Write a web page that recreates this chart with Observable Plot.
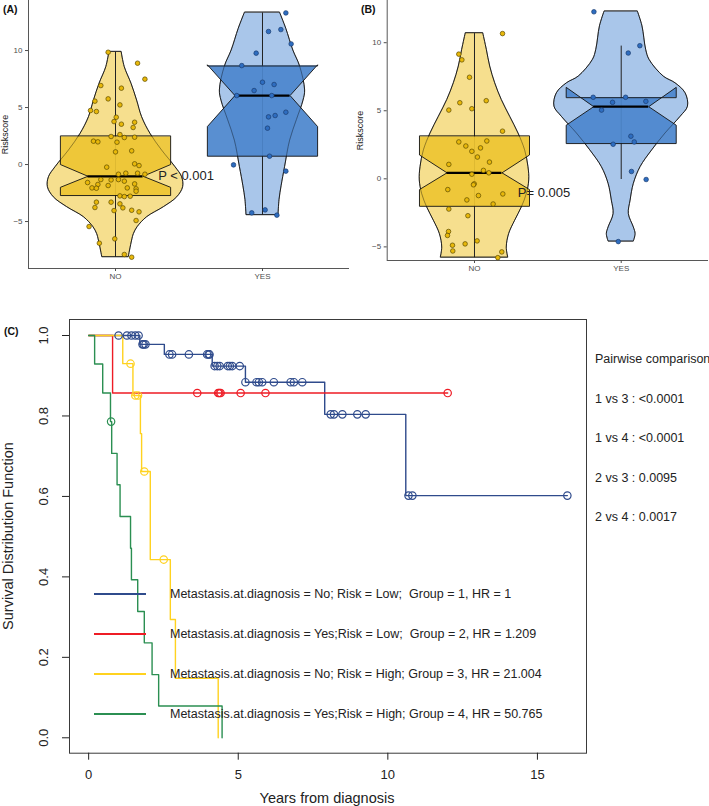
<!DOCTYPE html>
<html><head><meta charset="utf-8">
<script src="https://cdn.jsdelivr.net/npm/d3@7"></script>
<script src="https://cdn.jsdelivr.net/npm/@observablehq/plot@0.6"></script>
<style>
body{margin:0;background:#fff;font-family:"Liberation Sans",Arial,sans-serif;}
#wrap{position:relative;width:709px;height:806px;overflow:hidden;background:#fff;}
.panel{position:absolute;}
.tag{position:absolute;font-weight:bold;font-size:10.5px;color:#111;line-height:1;}
.txt{position:absolute;white-space:nowrap;font-size:12.5px;color:#222;line-height:1;transform:translateY(-50%);}
.ttl{position:absolute;white-space:nowrap;font-size:14.5px;color:#222;line-height:1;}
</style></head><body>
<div id="wrap">
  <div id="pA" class="panel" style="left:0;top:0"></div>
  <div id="pB" class="panel" style="left:355px;top:0"></div>
  <div id="pC" class="panel" style="left:0;top:300px"></div>
  <div class="tag" style="left:3px;top:4px">(A)</div>
  <div class="tag" style="left:361px;top:4px">(B)</div>
  <div class="tag" style="left:4px;top:326px">(C)</div>
  <div id="legend"></div>
  <div id="pairs"></div>
  <div class="ttl" style="left:327px;top:791px;transform:translateX(-50%)">Years from diagnosis</div>
  <div class="ttl" style="left:8px;top:536px;transform:translate(-50%,-50%) rotate(-90deg)">Survival Distribution Function</div>
</div>
<script>
// ---------------- DATA ----------------
const categories = ["NO", "YES"];
const riskTicks = [-5, 0, 5, 10];

// Panel A: violin outlines (riskscore level, half width in category units)
const aNoViolinV = [9.85, 8.54, 7.08, 5.61, 4.15, 2.69, 1.23, -0.23, -1.11, -1.99, -2.87, -3.74, -4.62, -5.5, -6.1, -6.67, -8.13];
const aNoViolinW = [0.042, 0.063, 0.109, 0.147, 0.181, 0.238, 0.317, 0.408, 0.453, 0.46, 0.42, 0.329, 0.215, 0.15, 0.125, 0.113, 0.09];
const aYesViolinV = [13.30, 11.9, 10.0, 8.6, 6.5, 5.6, 3.9, 2.1, -0.2, -1.9, -3.1, -4.44];
const aYesViolinW = [0.12, 0.162, 0.21, 0.256, 0.29, 0.279, 0.234, 0.188, 0.154, 0.13, 0.116, 0.109];
// Panel A: box statistics [NO, YES]
const aQ1 = [-2.72, 0.73], aMed = [-1.03, 6.05], aQ3 = [2.48, 8.68];
const aNotchLo = [-2.0, 3.33], aNotchHi = [0.0, 8.75];
const aWhiskLo = [-8.13, -4.44], aWhiskHi = [9.85, 13.30];
// Panel A: jittered points (value, horizontal jitter)
const aNoVal = [9.85, 8.89, 7.49, 6.93, 6.70, 5.56, 5.76, 5.23, 4.74, 4.65, 4.15, 3.77, 3.71, 3.54, 3.25, 2.46, 2.63, 2.37, 2.40, 2.05, 1.99, 1.96, 1.20, 1.11, 0.06, -0.09, -0.23, -0.85, -0.76, -0.76, -0.85, -1.32, -1.46, -1.35, -1.32, -1.58, -1.75, -2.05, -2.08, -1.84, -2.05, -1.70, -2.13, -2.34, -2.75, -2.81, -2.78, -3.30, -3.30, -3.45, -3.80, -3.77, -4.04, -4.01, -4.15, -4.91, -5.44, -6.52, -6.90, -7.89, -8.13];
const aNoJit = [-0.05, 0.15, 0.20, -0.10, 0.04, -0.14, -0.05, 0.03, -0.17, -0.13, 0.005, -0.01, 0.13, 0.04, 0.12, -0.03, 0.03, 0.06, 0.13, -0.15, -0.12, 0.01, 0.11, 0, 0.13, 0.16, -0.06, 0.02, 0.07, 0.15, 0.20, 0.02, 0.06, -0.03, -0.10, -0.19, -0.12, -0.16, -0.13, -0.05, 0.08, 0.13, 0.14, 0.14, 0.03, 0.06, 0.10, -0.13, -0.03, 0.03, 0.05, -0.14, -0.01, 0.11, 0.16, 0.14, -0.18, -0.005, -0.11, 0.06, 0.11];
const aYesVal = [13.30, 11.67, 11.84, 10.58, 9.77, 8.68, 7.22, 7.02, 6.49, 6.05, 6.05, 4.59, 4.30, 4.18, 3.19, 0.73, -0.03, -0.58, -4.24, -3.98, -4.44];
const aYesJit = [0.159, 0.041, 0.125, 0.195, -0.043, -0.141, 0, 0.079, -0.057, -0.175, 0.063, 0.159, 0.086, 0.041, 0.034, 0.048, -0.197, 0.159, -0.073, 0.018, 0.098];
const aP = [{x: 1.29, y: -1.03, label: "P < 0.001"}];

// Panel B
const bNoViolinV = [10.67, 9.48, 8.25, 7.02, 5.79, 4.56, 3.33, 2.09, 0.86, -0.12, -1.11, -2.09, -3.08, -4.06, -5.05, -5.79];
const bNoViolinW = [0.06, 0.084, 0.107, 0.141, 0.186, 0.243, 0.300, 0.345, 0.368, 0.373, 0.357, 0.323, 0.277, 0.236, 0.22, 0.23];
const bYesViolinV = [12.27, 11.2, 9.48, 8.74, 7.51, 7.02, 6.28, 5.30, 4.56, 3.33, 2.09, 0.86, -0.37, -1.6, -2.59, -3.57, -4.06, -4.61];
const bYesViolinW = [0.114, 0.145, 0.17, 0.193, 0.29, 0.37, 0.439, 0.455, 0.405, 0.302, 0.211, 0.132, 0.086, 0.064, 0.052, 0.086, 0.098, 0.086];
const bQ1 = [-2.02, 2.59], bMed = [0.44, 5.30], bQ3 = [3.13, 5.99];
const bNotchLo = [-0.79, 3.94], bNotchHi = [1.75, 6.72];
const bWhiskLo = [-5.79, -0.05], bWhiskHi = [10.67, 9.75];
const bNoVal = [10.67, 9.16, 8.74, 7.46, 5.05, 5.59, 5.15, 5.74, 3.50, 2.71, 2.41, 2.78, 2.27, 2.02, 1.60, 1.23, 1.06, 0.62, 0.44, 0.34, -0.37, -0.44, -0.79, -1.11, -1.23, -1.55, -1.85, -2.22, -2.71, -3.87, -4.16, -4.88, -4.78, -4.56, -5.30, -5.37, -5.79];
const bNoJit = [0.191, -0.107, -0.086, -0.034, -0.175, -0.100, -0.018, 0.080, 0.191, -0.107, -0.059, 0.084, 0.041, -0.018, 0.020, 0.102, -0.175, 0.061, 0.098, -0.018, -0.002, -0.007, -0.182, 0.193, 0.027, -0.052, 0.127, -0.175, -0.045, -0.177, -0.184, -0.150, -0.064, 0.018, -0.148, 0.186, 0.159];
const bYesVal = [12.27, 9.78, 9.24, 5.99, 5.99, 5.62, 5.69, 5.05, 3.13, 2.71, 2.54, 0.54, -0.05, -4.61];
const bYesJit = [-0.186, 0.127, 0.048, -0.191, 0.030, -0.059, 0.168, -0.134, 0.066, 0.089, -0.055, 0.070, 0.170, -0.020];
const bP = [{x: 1.295, y: -1.06, label: "P= 0.005"}];

// Panel C: Kaplan-Meier steps (time in years, survival) and censor times
const g1T = [0, 1.71, 2.53, 4.13, 5.24, 7.89, 10.60, 16.0];
const g1S = [1, 0.978, 0.953, 0.924, 0.884, 0.804, 0.602, 0.602];
const g1Cens = [1.00, 1.28, 1.43, 1.56, 1.67, 1.80, 1.84, 1.90, 2.70, 2.79, 3.35, 3.96, 4.01, 4.04, 4.21, 4.30, 4.38, 4.65, 4.72, 4.80, 5.05, 5.24, 5.61, 5.69, 5.80, 6.19, 6.75, 6.86, 7.14, 8.09, 8.20, 8.48, 8.98, 9.26, 10.69, 10.82, 16.0];
const g2T = [0, 0.80, 12.0];
const g2S = [1, 0.857, 0.857];
const g2Cens = [3.63, 4.33, 4.37, 4.41, 5.08, 5.91, 12.0];
const g3T = [0, 1.14, 1.48, 1.73, 1.77, 2.06, 2.73, 2.90, 4.33];
const g3S = [1, 0.93, 0.851, 0.756, 0.662, 0.443, 0.294, 0.148, 0];
const g3Cens = [1.40, 1.56, 1.65, 1.86, 2.51];
const g4T = [0, 0.20, 0.47, 0.73, 0.77, 0.95, 1.05, 1.40, 1.43, 1.64, 1.86, 2.12, 2.34, 4.46];
const g4S = [1, 0.929, 0.857, 0.786, 0.707, 0.629, 0.550, 0.471, 0.393, 0.314, 0.236, 0.157, 0.079, 0];
const g4Cens = [0.75];
const yearTicks = [0, 5, 10, 15];
const survTicks = [0, 0.2, 0.4, 0.6, 0.8, 1.0];
const legendLabels = [
  "Metastasis.at.diagnosis = No; Risk = Low;  Group = 1, HR = 1",
  "Metastasis.at.diagnosis = Yes;Risk = Low;  Group = 2, HR = 1.209",
  "Metastasis.at.diagnosis = No; Risk = High; Group = 3, HR = 21.004",
  "Metastasis.at.diagnosis = Yes;Risk = High; Group = 4, HR = 50.765"
];
const pairwiseTitle = "Pairwise comparison";
const pairwiseLabels = ["1 vs 3 : <0.0001", "1 vs 4 : <0.0001", "2 vs 3 : 0.0095", "2 vs 4 : 0.0017"];

// ---------------- STYLES ----------------
const BOXW = 0.375, NOTCHW = BOXW * 0.5;
const gold = {violin: "#F6DF8E", box: "#EDC533", pt: "#E8B80A", ptStroke: "#5C4A00"};
const blue = {violin: "#A9C6EA", box: "#4C87CD", pt: "#2E6DC0", ptStroke: "#1A3C70"};
const kmColors = ["#2F4B8C", "#EE1C25", "#FFD21F", "#2B8F52"];
const FONT = "'Liberation Sans', Arial, Helvetica, sans-serif";

function violin(vs, ws, c) { return vs.map((v, i) => ({v, x1: c - ws[i], x2: c + ws[i]})); }
function pts(vals, jit, c) { return vals.map((v, i) => ({v, x: c + jit[i]})); }
function boxPoly(c, q1, med, q3, nlo, nhi) {
  return [[c - BOXW, q3], [c - BOXW, nhi], [c - NOTCHW, med], [c - BOXW, nlo], [c - BOXW, q1],
          [c + BOXW, q1], [c + BOXW, nlo], [c + NOTCHW, med], [c + BOXW, nhi], [c + BOXW, q3]]
         .map(([x, y]) => ({x, y}));
}

function violinPanel(opt) {
  const {width, marginLeft, marginRight, marginBottom, xDomain, yDomain, vNo, vYes, Q1, Med, Q3, NLo, NHi, WLo, WHi, noPts, yesPts, pLab} = opt;
  const cols = [gold, blue];
  const violins = [vNo, vYes];
  const ptsArr = [noPts, yesPts];
  const marks = [
    Plot.ruleX([xDomain[0]], {stroke: "#444", strokeWidth: 0.9}),
    Plot.ruleY([yDomain[0]], {stroke: "#444", strokeWidth: 0.9}),
    Plot.axisX({ticks: [1, 2], tickFormat: d => categories[d - 1], tickSize: 3, tickPadding: 2, fontSize: 8, color: "#4d4d4d", label: null}),
    Plot.axisY({ticks: riskTicks, tickSize: 3, tickPadding: 3, fontSize: 8, color: "#4d4d4d", label: null}),
    Plot.axisY({ticks: [], label: "Riskscore", labelAnchor: "center", labelOffset: marginLeft - 1, labelArrow: "none", fontSize: 9, color: "#1a1a1a"})
  ];
  [0, 1].forEach(i => {
    const c = i + 1;
    marks.push(Plot.areaX(violins[i], {y: "v", x1: "x1", x2: "x2", fill: cols[i].violin, stroke: "#111", strokeWidth: 0.9, curve: "catmull-rom"}));
    marks.push(Plot.ruleX([c], {y1: WLo[i], y2: WHi[i], stroke: "#222", strokeWidth: 1}));
    marks.push(Plot.line(boxPoly(c, Q1[i], Med[i], Q3[i], NLo[i], NHi[i]), {x: "x", y: "y", fill: cols[i].box, fillOpacity: 0.93, stroke: "#111", strokeWidth: 0.9, curve: "linear-closed"}));
    marks.push(Plot.areaX(violins[i], {y: "v", x1: "x1", x2: "x2", fill: "none", stroke: "#111", strokeOpacity: 0.45, strokeWidth: 0.8, curve: "catmull-rom"}));
    marks.push(Plot.ruleY([Med[i]], {x1: c - NOTCHW, x2: c + NOTCHW, stroke: "#000", strokeWidth: 2.2}));
    marks.push(Plot.dot(ptsArr[i], {x: "x", y: "v", r: 2.3, fill: cols[i].pt, stroke: cols[i].ptStroke, strokeWidth: 0.7}));
  });
  marks.push(Plot.text(pLab, {x: "x", y: "y", text: "label", textAnchor: "start", fontSize: 13, fill: "#222"}));
  return Plot.plot({
    width, height: 300, marginLeft, marginRight, marginTop: 0, marginBottom,
    style: {fontFamily: FONT, fontSize: "8px", background: "transparent", overflow: "visible"},
    x: {domain: xDomain, axis: null},
    y: {domain: yDomain, axis: null},
    marks
  });
}

document.getElementById("pA").appendChild(violinPanel({
  width: 355, marginLeft: 28, marginRight: 6, marginBottom: 32,
  xDomain: [0.408, 2.592], yDomain: [-9.12, 14.39],
  vNo: violin(aNoViolinV, aNoViolinW, 1), vYes: violin(aYesViolinV, aYesViolinW, 2),
  Q1: aQ1, Med: aMed, Q3: aQ3, NLo: aNotchLo, NHi: aNotchHi, WLo: aWhiskLo, WHi: aWhiskHi,
  noPts: pts(aNoVal, aNoJit, 1), yesPts: pts(aYesVal, aYesJit, 2), pLab: aP
}));
document.getElementById("pB").appendChild(violinPanel({
  width: 354, marginLeft: 31.7, marginRight: 1, marginBottom: 40,
  xDomain: [0.405, 2.595], yDomain: [-6.0, 13.1],
  vNo: violin(bNoViolinV, bNoViolinW, 1), vYes: violin(bYesViolinV, bYesViolinW, 2),
  Q1: bQ1, Med: bMed, Q3: bQ3, NLo: bNotchLo, NHi: bNotchHi, WLo: bWhiskLo, WHi: bWhiskHi,
  noPts: pts(bNoVal, bNoJit, 1), yesPts: pts(bYesVal, bYesJit, 2), pLab: bP
}));

// ---------------- PANEL C ----------------
const kmT = [g1T, g2T, g3T, g4T], kmS = [g1S, g2S, g3S, g4S], kmC = [g1Cens, g2Cens, g3Cens, g4Cens];
const kmMarks = [];
kmT.forEach((T, g) => {
  const rows = T.map((t, i) => ({t, s: kmS[g][i]}));
  kmMarks.push(Plot.line(rows, {x: "t", y: "s", stroke: kmColors[g], strokeWidth: 1.4, curve: "step-after"}));
});
kmT.forEach((T, g) => {
  const cens = kmC[g].map(t => ({t, s: kmS[g][Math.max(0, d3.bisectRight(T, t) - 1)]}));
  kmMarks.push(Plot.dot(cens, {x: "t", y: "s", r: 3.7, stroke: kmColors[g], fill: "none", strokeWidth: 1.2}));
});
document.getElementById("pC").appendChild(Plot.plot({
  width: 709, height: 506, marginLeft: 69, marginRight: 123, marginTop: 19, marginBottom: 53.3,
  style: {fontFamily: FONT, fontSize: "13px", background: "transparent", color: "#222", overflow: "visible"},
  x: {domain: [-0.64, 16.64], axis: null},
  y: {domain: [-0.0383, 1.0398], axis: null},
  marks: [
    Plot.frame({stroke: "#3a3a3a", strokeWidth: 1}),
    Plot.axisX({ticks: yearTicks, tickSize: 7, tickPadding: 10, fontSize: 13, label: null}),
    Plot.axisY({ticks: survTicks, tickSize: 7, tickFormat: () => "", label: null}),
    Plot.text(survTicks, {y: d => d, frameAnchor: "left", text: d3.format(".1f"), rotate: -90, textAnchor: "middle", dx: -26, fontSize: 13, fill: "#222"}),
    ...kmMarks
  ]
}));

// legend (inside plot) and pairwise text
const leg = document.getElementById("legend");
legendLabels.forEach((lab, i) => {
  const y = 594.3 + i * 39.8;
  leg.insertAdjacentHTML("beforeend",
    `<svg style="position:absolute;left:94px;top:${y - 2}px" width="52" height="4"><line x1="0" x2="52" y1="2" y2="2" stroke="${kmColors[i]}" stroke-width="2"/></svg>` +
    `<div class="txt" style="left:170px;top:${y}px">${lab.replace(/  /g, " &nbsp;")}</div>`);
});
const pr = document.getElementById("pairs");
[pairwiseTitle, ...pairwiseLabels].forEach((lab, i) => {
  pr.insertAdjacentHTML("beforeend", `<div class="txt" style="left:595px;top:${359.3 + i * 39.5}px">${lab.replace(/</g, "&lt;")}</div>`);
});
</script>
</body></html>
